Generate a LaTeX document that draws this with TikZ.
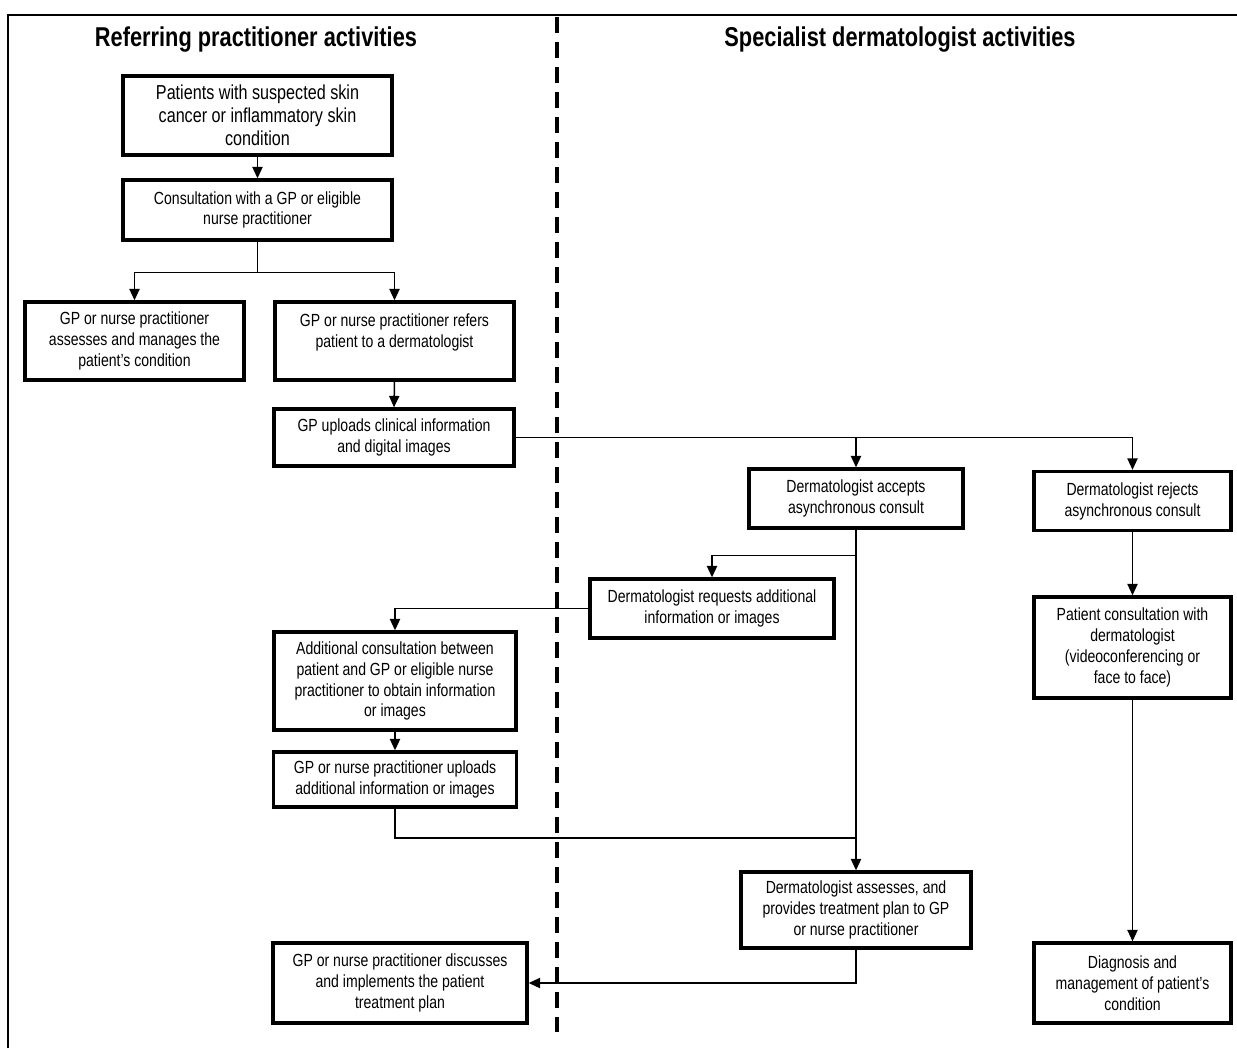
\documentclass[tikz,border=0pt]{standalone}
\usepackage{fontspec}
\setmainfont{Liberation Sans}[FakeStretch=0.8]
\usetikzlibrary{arrows.meta, positioning}

\newdimen\px
\px=0.02cm

\begin{document}
\begin{tikzpicture}[
  x=0.02cm, y=-0.02cm,
  >={Triangle[length=6.5pt,width=5.8pt]},
  every node/.style={font=\fontsize{10}{11.9}\selectfont},
  box/.style={rectangle, draw=black, line width=1.9pt, fill=white,
             align=center, inner sep=2pt},
  bigbox/.style={box, font=\fontsize{11.5}{13}\selectfont},
  lanetitle/.style={font=\bfseries\fontsize{15.5}{17}\selectfont},
  arrow/.style={->, line width=0.85pt},
  link/.style={line width=0.85pt},
  divider/.style={line width=2.4pt, dash pattern=on 16\px off 9\px},
  frame/.style={line width=1.4pt}
]
\useasboundingbox (0,0) rectangle (1237,1048);

% Frame and lanes
\draw[frame] (8,1048) -- (8,15) -- (1237,15);
\draw[divider] (557,17) -- (557,1032);
\node[lanetitle] (reftitle) at (256,40) {Referring practitioner activities};
\node[lanetitle] (spectitle) at (900,40) {Specialist dermatologist activities};

% Referring practitioner side
\node[bigbox, minimum width=269\px, minimum height=79\px] (patients) at (257.5,115.5)
  {Patients with suspected skin\\cancer or inflammatory skin\\condition};
\node[box, minimum width=269\px, minimum height=60\px] (consult) at (257.5,210)
  {Consultation with a GP or eligible\\nurse practitioner};
\node[box, minimum width=219\px, minimum height=78\px] (manage) at (134.5,341)
  {GP or nurse practitioner\\assesses and manages the\\patient's condition};
\node[box, minimum width=239\px, minimum height=78\px] (refer) at (394.5,341)
  {GP or nurse practitioner refers\\patient to a dermatologist\\\mbox{}};
\node[box, minimum width=240\px, minimum height=57\px] (upload) at (394,437.5)
  {GP uploads clinical information\\and digital images};
\node[box, minimum width=242\px, minimum height=98\px] (addcons) at (395,681)
  {Additional consultation between\\patient and GP or eligible nurse\\practitioner to obtain information\\or images};
\node[box, minimum width=243\px, minimum height=55\px] (upadd) at (395,779.5)
  {GP or nurse practitioner uploads\\additional information or images};
\node[box, minimum width=254\px, minimum height=80\px] (implement) at (400,983)
  {GP or nurse practitioner discusses\\and implements the patient\\treatment plan};

% Specialist dermatologist side
\node[box, minimum width=214\px, minimum height=59\px] (accept) at (856,498.5)
  {Dermatologist accepts\\asynchronous consult};
\node[box, minimum width=197\px, minimum height=59\px] (reject) at (1132.5,501)
  {Dermatologist rejects\\asynchronous consult};
\node[box, minimum width=244\px, minimum height=59\px] (request) at (712,608.5)
  {Dermatologist requests additional\\information or images};
\node[box, minimum width=197\px, minimum height=101\px] (patcons) at (1132.5,647.5)
  {Patient consultation with\\dermatologist\\(videoconferencing or\\face to face)};
\node[box, minimum width=230\px, minimum height=76\px] (assess) at (856,910)
  {Dermatologist assesses, and\\provides treatment plan to GP\\or nurse practitioner};
\node[box, minimum width=197\px, minimum height=80\px] (diag) at (1132.5,983)
  {Diagnosis and\\management of patient's\\condition};

\coordinate (rejoin) at (856,838);

% Arrows
\draw[arrow] (patients.south) -- (consult.north);
\draw[arrow] (consult.south) -- ++(0,31) -| (manage.north);
\draw[arrow] (consult.south) -- ++(0,31) -| (refer.north);
\draw[arrow] (refer.south) -- (upload.north);
\draw[arrow] (upload.east) -| (reject.north);
\draw[arrow] (upload.east -| accept.north) -- (accept.north);
\draw[arrow] (accept.south) -- (assess.north);
\draw[arrow] (accept.south) ++(0,26) -| (request.north);
\draw[arrow] (request.west) -| (addcons.north);
\draw[arrow] (addcons.south) -- (upadd.north);
\draw[link] (upadd.south) |- (rejoin);
\draw[arrow] (assess.south) |- (implement.east);
\draw[arrow] (reject.south) -- (patcons.north);
\draw[arrow] (patcons.south) -- (diag.north);

\end{tikzpicture}
\end{document}
